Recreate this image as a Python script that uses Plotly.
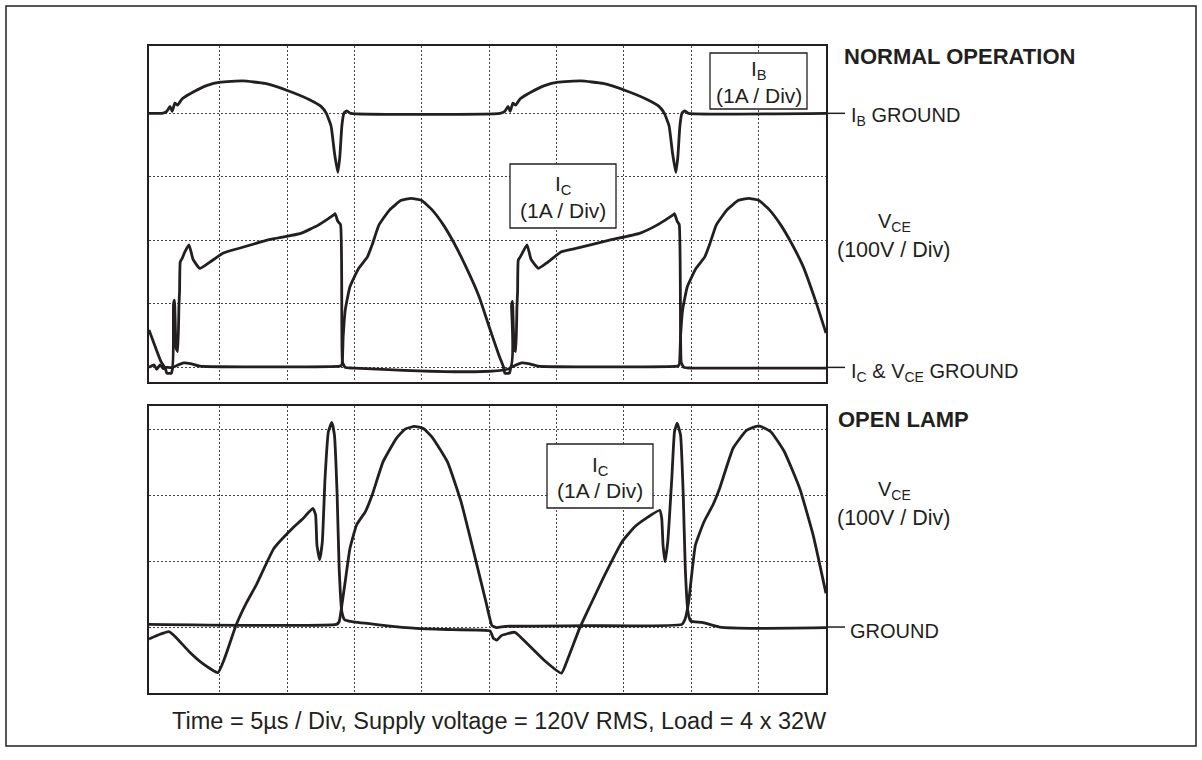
import plotly.graph_objects as go

# ---------------- data (time in microseconds, amplitude in scope divisions) ----------------
# NORMAL OPERATION - base current I_B (relative to its own ground trace)
ib_t = [-0.27, 0.7, 1.05, 1.29, 1.45, 1.65, 1.85, 2.2, 3.05, 4.05, 5.03, 6.7, 8.35, 10.0, 11.65, 12.5,
        12.9, 13.25, 13.5, 13.75, 13.9, 14.05, 14.2, 14.4, 14.7,
        25.8, 26.15, 26.39, 26.55, 26.75, 26.95, 27.3, 28.15, 29.15, 30.1, 31.8, 33.45, 35.1, 36.75, 37.6,
        38.0, 38.35, 38.6, 38.85, 39.0, 39.15, 39.3, 39.5, 39.8, 50.0]
ib_v = [0.0, 0.0, 0.03, 0.11, 0.03, 0.16, 0.13, 0.23, 0.34, 0.44, 0.49, 0.51, 0.47, 0.36, 0.215, 0.11,
        0.0, -0.20, -0.62, -0.93, -0.68, -0.20, 0.0, 0.04, 0.0,
        0.0, 0.03, 0.11, 0.03, 0.16, 0.13, 0.23, 0.34, 0.44, 0.49, 0.51, 0.47, 0.36, 0.215, 0.11,
        0.0, -0.20, -0.62, -0.93, -0.68, -0.20, 0.0, 0.04, 0.0, 0.0]

# NORMAL OPERATION - collector current I_C
ic_t = [-0.27, 0.1, 0.3, 0.55, 0.8, 1.0, 1.45, 1.55, 1.62, 1.75, 1.86, 1.95, 2.0, 2.05, 2.2, 2.35, 2.7, 3.0,
        3.5, 4.2, 5.25, 6.5, 8.65, 11.0, 12.3, 13.45, 13.55, 13.75, 13.95, 14.05, 14.1, 14.3, 14.8,
        26.55, 26.65, 26.72, 26.85, 26.96, 27.05, 27.1, 27.15, 27.3, 27.45, 27.8, 28.1, 28.65, 29.3, 30.35,
        31.6, 33.85, 36.15, 37.45, 38.65, 38.75, 38.95, 39.1, 39.2, 39.25, 39.45, 40.0, 50.0]
ic_v = [0.0, 0.04, -0.03, 0.04, -0.02, 0.0, 0.0, 1.0, 1.06, 0.3, 0.25, 0.95, 1.2, 1.66, 1.72, 1.80, 1.93, 1.7,
        1.56, 1.65, 1.80, 1.88, 2.01, 2.11, 2.24, 2.40, 2.42, 2.30, 2.25, 0.6, 0.08, 0.0, -0.01,
        -0.01, 0.98, 1.04, 0.3, 0.25, 0.95, 1.2, 1.69, 1.74, 1.80, 1.93, 1.7, 1.56, 1.65, 1.82,
        1.88, 2.0, 2.11, 2.24, 2.40, 2.42, 2.30, 2.25, 0.6, 0.08, 0.0, -0.01, -0.01]

# NORMAL OPERATION - collector-emitter voltage V_CE
vce_t = [-0.27, 0.2, 0.6, 0.95, 1.05, 1.4, 1.5, 1.8, 2.3, 2.8, 3.5, 5.0, 13.9, 14.05, 14.15, 14.3, 14.65,
         15.3, 15.95, 16.3, 16.8, 17.6, 18.45, 19.2, 19.95, 20.75, 21.6, 22.4, 23.25, 24.25, 25.05, 25.7,
         26.05, 26.15, 26.5, 26.6, 26.9, 27.4, 27.9, 28.6, 30.0, 38.95, 39.1, 39.2, 39.35, 39.7, 40.35,
         41.0, 41.35, 41.85, 42.65, 43.5, 44.25, 45.0, 45.8, 46.65, 47.45, 48.3, 49.3, 50.0]
vce_v = [0.59, 0.32, 0.1, -0.02, -0.09, -0.09, 0.0, 0.03, 0.07, 0.06, 0.02, 0.01, 0.02, 0.04, 0.49, 0.90, 1.27,
         1.56, 1.74, 1.93, 2.24, 2.48, 2.63, 2.66, 2.63, 2.48, 2.24, 1.95, 1.59, 1.11, 0.6, 0.2,
         0.01, -0.09, -0.09, 0.0, 0.03, 0.07, 0.06, 0.02, 0.01, 0.02, 0.04, 0.49, 0.90, 1.27, 1.56,
         1.74, 1.93, 2.24, 2.48, 2.63, 2.66, 2.63, 2.48, 2.24, 1.95, 1.59, 1.0, 0.54]

# OPEN LAMP - collector current I_C
olic_t = [-0.27, 0.55, 1.2, 1.7, 2.7, 3.7, 4.85, 5.35, 6.2, 7.0, 7.7, 9.0, 10.35, 11.15, 11.9, 12.1, 12.2,
          12.4, 12.6, 12.8, 13.05, 13.3, 13.5, 13.7, 13.85, 14.05, 14.25, 14.8, 16.95, 19.6, 22.25, 25.05,
          25.3, 25.55, 25.9, 26.9, 27.9, 29.05, 30.35, 30.85, 31.7, 32.5, 33.5, 34.85, 35.8, 36.8, 37.65,
          37.8, 37.9, 38.05, 38.25, 38.55, 38.75, 38.95, 39.2, 39.4, 39.55, 39.75, 39.95, 40.8, 42.1, 45.0, 50.0]
olic_v = [-0.18, -0.11, -0.07, -0.15, -0.37, -0.55, -0.69, -0.47, 0.03, 0.38, 0.64, 1.19, 1.49, 1.64, 1.80, 1.70, 1.24,
          1.02, 1.29, 2.25, 2.96, 3.10, 2.91, 2.0, 0.89, 0.23, 0.11, 0.08, 0.03, -0.02, -0.04, -0.06,
          -0.17, -0.2, -0.13, -0.08, -0.27, -0.5, -0.70, -0.47, -0.02, 0.33, 0.76, 1.29, 1.52, 1.67, 1.77,
          1.65, 1.24, 0.99, 1.29, 2.25, 2.96, 3.09, 2.91, 2.0, 0.89, 0.23, 0.09, 0.07, 0.0, -0.02, -0.01]

# OPEN LAMP - collector-emitter voltage V_CE
olvce_t = [-0.27, 13.65, 13.85, 14.05, 14.3, 14.65, 15.15, 15.8, 16.3, 17.1, 18.1, 18.75, 19.45, 20.1, 20.75,
           21.9, 22.9, 23.9, 24.75, 25.2, 25.55, 26.2, 32.2, 39.3, 39.55, 39.8, 40.3, 40.95, 41.6, 42.1,
           43.1, 44.1, 45.0, 45.9, 46.9, 48.05, 49.05, 50.0]
olvce_v = [0.04, 0.04, 0.08, 0.33, 0.69, 1.19, 1.55, 1.75, 2.0, 2.5, 2.86, 3.0, 3.04, 3.01, 2.88,
           2.5, 1.9, 1.09, 0.38, 0.02, -0.01, 0.01, 0.02, 0.04, 0.13, 0.38, 1.24, 1.6, 1.85, 2.1,
           2.71, 2.98, 3.05, 2.96, 2.66, 2.1, 1.39, 0.51]

time_grid = [5, 10, 15, 20, 25, 30, 35, 40, 45]
top_grid = [0, 1, 2, 3, 4]
bottom_grid = [0, 1, 2, 3]
IB_GROUND = 4

# ---------------- styling ----------------
W, H = 1202, 760
INK = "#231f20"
FONT = "Liberation Sans, Arial, Helvetica, sans-serif"
LW = 2.8

def px(x):
    return x / W

def py(y):
    return 1 - y / H

fig = go.Figure()
line = dict(color=INK, width=LW, shape="spline", smoothing=0.4)
fig.add_trace(go.Scatter(x=ib_t, y=[v + IB_GROUND for v in ib_v], mode="lines", line=line,
                         xaxis="x", yaxis="y", hoverinfo="skip"))
fig.add_trace(go.Scatter(x=ic_t, y=ic_v, mode="lines", line=line, xaxis="x", yaxis="y", hoverinfo="skip"))
fig.add_trace(go.Scatter(x=vce_t, y=vce_v, mode="lines", line=line, xaxis="x", yaxis="y", hoverinfo="skip"))
fig.add_trace(go.Scatter(x=olic_t, y=olic_v, mode="lines", line=line, xaxis="x2", yaxis="y2", hoverinfo="skip"))
fig.add_trace(go.Scatter(x=olvce_t, y=olvce_v, mode="lines", line=line, xaxis="x2", yaxis="y2", hoverinfo="skip"))

XDOM = [px(149), px(826)]
axis_common = dict(showgrid=True, gridcolor="#444444", griddash="2px,2px", gridwidth=1.2,
                   showline=True, mirror=True, linecolor=INK, linewidth=1.5,
                   showticklabels=False, ticks="", zeroline=False, fixedrange=True)

fig.update_layout(
    width=W, height=H, margin=dict(l=0, r=0, t=0, b=0),
    paper_bgcolor="white", plot_bgcolor="white", showlegend=False,
    font=dict(family=FONT, color=INK),
    xaxis=dict(domain=XDOM, range=[-0.27, 50], tickvals=time_grid, anchor="y", **axis_common),
    yaxis=dict(domain=[py(382), py(46)], range=[-0.23, 5.06], tickvals=top_grid, anchor="x", **axis_common),
    xaxis2=dict(domain=XDOM, range=[-0.27, 50], tickvals=time_grid, anchor="y2", **axis_common),
    yaxis2=dict(domain=[py(693), py(406)], range=[-1.0, 3.35], tickvals=bottom_grid, anchor="x2", **axis_common),
)

shapes = []
# outer frame
shapes.append(dict(type="rect", xref="paper", yref="paper", x0=px(6), x1=px(1196), y0=py(746), y1=py(6),
                   line=dict(color=INK, width=1.5), fillcolor="rgba(0,0,0,0)", layer="below"))
# label boxes
for (x0, y0, x1, y1) in [(710, 53, 807, 109), (510, 164, 616, 228), (547, 444, 653, 508)]:
    shapes.append(dict(type="rect", xref="paper", yref="paper", x0=px(x0), x1=px(x1), y0=py(y1), y1=py(y0),
                       line=dict(color=INK, width=1.3), fillcolor="white", layer="above"))
# ground leader lines
for yref, yv in [("y", IB_GROUND), ("y", 0), ("y2", 0)]:
    shapes.append(dict(type="line", xref="paper", yref=yref, x0=px(826), x1=px(845), y0=yv, y1=yv,
                       line=dict(color=INK, width=1.5), layer="above"))
fig.update_layout(shapes=shapes)

ann = []
def text(x, y, s, size, anchor="center", bold=False):
    if bold:
        s = "<b>" + s + "</b>"
    ann.append(dict(x=px(x), y=py(y), xref="paper", yref="paper", text=s, showarrow=False,
                    xanchor=anchor, yanchor="middle", font=dict(size=size, family=FONT, color=INK)))

text(842, 57, "NORMAL OPERATION", 22, "left", True)
text(849, 117, "I<sub>B</sub> GROUND", 20, "left")
text(894, 222, "V<sub>CE</sub>", 20)
text(894, 250, "(100V / Div)", 21.5)
text(849, 372, "I<sub>C</sub> &amp; V<sub>CE</sub> GROUND", 20, "left")
text(836, 419, "OPEN LAMP", 22, "left", True)
text(894, 490, "V<sub>CE</sub>", 20)
text(894, 518, "(100V / Div)", 21.5)
text(848, 631, "GROUND", 20, "left")
# boxes
text(758.5, 70, "I<sub>B</sub>", 21)
text(758.5, 96, "(1A / Div)", 21)
text(563, 185, "I<sub>C</sub>", 21)
text(563, 210, "(1A / Div)", 21)
text(600, 466, "I<sub>C</sub>", 21)
text(600, 491, "(1A / Div)", 21)
# footer
text(499, 721, "Time = 5µs / Div, Supply voltage = 120V RMS, Load = 4 x 32W", 23.5)
fig.update_layout(annotations=ann)

fig.write_html("out.html", config={"displayModeBar": False},
               post_script="document.body.style.margin='0px';")
